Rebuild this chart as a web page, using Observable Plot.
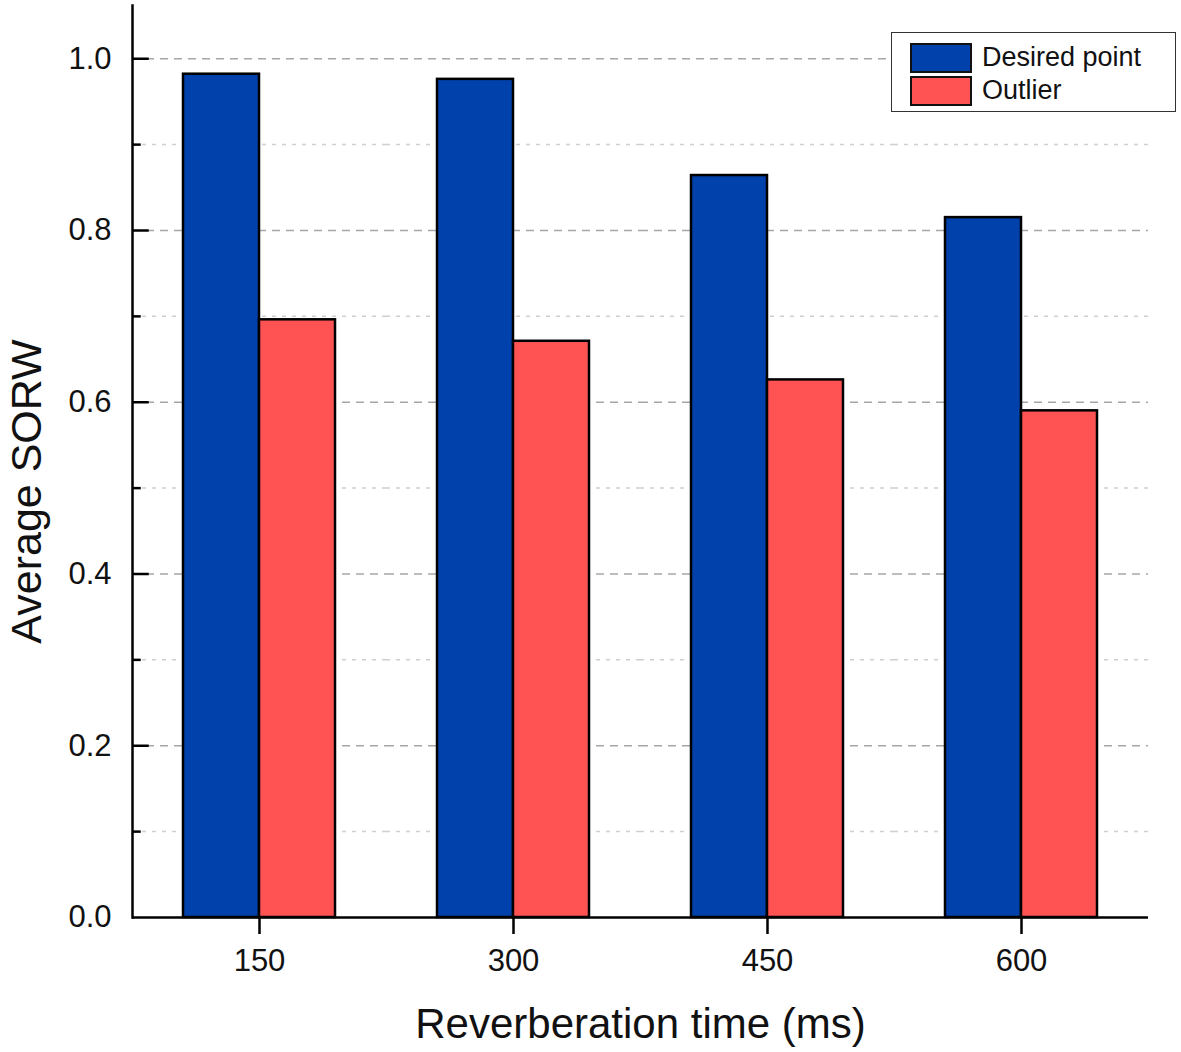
<!DOCTYPE html>
<html><head><meta charset="utf-8">
<script src="https://cdn.jsdelivr.net/npm/d3@7"></script>
<script src="https://cdn.jsdelivr.net/npm/@observablehq/plot@0.6"></script>
<style>
body{margin:0;background:#fff;font-family:"Liberation Sans",Arial,sans-serif}
#wrap{position:relative;width:1181px;height:1052px}
.legend{position:absolute;left:891px;top:32px;width:285px;height:80px;border:1.5px solid #333;box-sizing:border-box;background:#fff;padding-top:8px}
.item{display:flex;align-items:center;height:33px;margin-left:18px}
.sw{width:62px;height:30px;border:2px solid #111;box-sizing:border-box;margin-right:10px}
.item span{font-size:27px;color:#111}
</style></head><body><div id="wrap"></div>
<script>
const reverberationTimes = [150, 300, 450, 600];
const seriesNames = ["Desired point", "Outlier"];
const desiredPoint = [0.982, 0.976, 0.864, 0.815];
const outlier = [0.696, 0.671, 0.626, 0.590];
const majorTicks = [0, 0.2, 0.4, 0.6, 0.8, 1.0];
const minorTicks = [0.1, 0.3, 0.5, 0.7, 0.9];
const colors = ["#0041ab", "#ff5252"];
const xTitle = "Reverberation time (ms)";
const yTitle = "Average SORW";

const data = reverberationTimes.flatMap((rt, i) => [
  {rt, series: seriesNames[0], value: desiredPoint[i]},
  {rt, series: seriesNames[1], value: outlier[i]}
]);

const W = 1181, H = 1052, ML = 131, MR = 33, MT = 5, MB = 135;
const facetWidth = (W - ML - MR) / reverberationTimes.length;

const chart = Plot.plot({
  width: W, height: H,
  marginLeft: ML, marginRight: MR, marginTop: MT, marginBottom: MB,
  style: {fontFamily: "'Liberation Sans', Arial, sans-serif", fontSize: "31px", color: "#111", background: "#fff"},
  fx: {domain: reverberationTimes, padding: 0, label: null, axis: null},
  x: {domain: seriesNames, paddingInner: 0, paddingOuter: 0.66, axis: null},
  y: {domain: [0, 1.062], label: null, axis: null},
  color: {domain: seriesNames, range: colors},
  marks: [
    Plot.ruleY(minorTicks, {stroke: "#cfcfcf", strokeWidth: 1.5, strokeDasharray: "4,6"}),
    Plot.ruleY(majorTicks.slice(1), {stroke: "#a6a6a6", strokeWidth: 1.5, strokeDasharray: "8,6"}),
    Plot.barY(data, {fx: "rt", x: "series", y: "value", fill: "series", stroke: "#000", strokeWidth: 2.5}),
    Plot.ruleY([0], {stroke: "#000", strokeWidth: 2.5}),
    Plot.frame({anchor: "left", facetAnchor: "left", stroke: "#000", strokeWidth: 2.5}),
    Plot.ruleY(majorTicks.slice(1), {facetAnchor: "left", insetRight: facetWidth - 17, stroke: "#000", strokeWidth: 2.5}),
    Plot.ruleY(minorTicks, {facetAnchor: "left", insetRight: facetWidth - 9, stroke: "#000", strokeWidth: 2.5}),
    Plot.axisY(majorTicks, {tickSize: 0, tickPadding: 21, fontSize: 31, tickFormat: d3.format(".1f"), label: null}),
    Plot.axisFx({anchor: "bottom", tickSize: 17, tickPadding: 14, fontSize: 31, strokeWidth: 2.5, stroke: "#000", label: null}),
    Plot.text([yTitle], {frameAnchor: "left", facetAnchor: "left", textAnchor: "middle", rotate: -90, dx: -105, dy: 30, fontSize: 43, fill: "#111"}),
    Plot.text([{rt: reverberationTimes[1], t: xTitle}], {fx: "rt", text: "t", frameAnchor: "bottom-right", textAnchor: "middle", dy: 120, fontSize: 42, fill: "#111"})
  ]
});
const wrap = document.getElementById("wrap");
wrap.appendChild(chart);

const legend = document.createElement("div");
legend.className = "legend";
seriesNames.forEach((name, i) => {
  const item = document.createElement("div");
  item.className = "item";
  const sw = document.createElement("div");
  sw.className = "sw";
  sw.style.background = colors[i];
  const t = document.createElement("span");
  t.textContent = name;
  item.appendChild(sw); item.appendChild(t);
  legend.appendChild(item);
});
wrap.appendChild(legend);
</script></body></html>
